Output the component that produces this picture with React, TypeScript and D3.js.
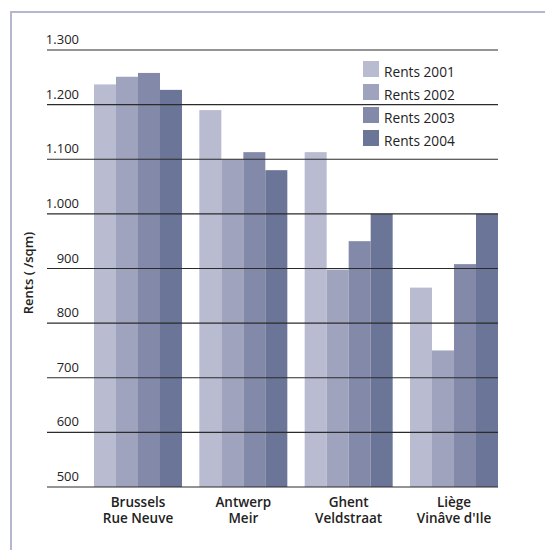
import React from "react";
import * as d3 from "d3";

const categories = [["Brussels", "Rue Neuve"], ["Antwerp", "Meir"], ["Ghent", "Veldstraat"], ["Liège", "Vinâve d'Ile"]];
const seriesNames = ["Rents 2001", "Rents 2002", "Rents 2003", "Rents 2004"];
const rents2001 = [1237, 1190, 1113, 865];
const rents2002 = [1251, 1100, 898, 750];
const rents2003 = [1258, 1113, 950, 908];
const rents2004 = [1227, 1080, 1000, 1000];
const yTicks = [500, 600, 700, 800, 900, 1000, 1100, 1200, 1300];
const colors = ["#b9bbd1", "#9fa3bd", "#8389a8", "#6b7597"];

const W = 545;
const H = 550;
const FONT = "'Open Sans', sans-serif";

export default function App() {
  const series = [rents2001, rents2002, rents2003, rents2004];
  const catKeys = categories.map((c) => c.join(" "));
  const x0 = d3.scaleBand().domain(catKeys).range([94, 498]).paddingInner(0.1646).paddingOuter(0);
  const x1 = d3.scaleBand().domain(seriesNames).range([0, x0.bandwidth()]).padding(0);
  const y = d3.scaleLinear().domain([500, 1300]).range([487, 50]);
  const fmt = (v: number) => d3.format(",")(v).replace(/,/g, ".");

  return (
    <svg width={W} height={H} style={{ position: "absolute", left: 0, top: 0, background: "#fff" }} fontFamily={FONT}>
      <rect x={11} y={12} width={W} height={H} fill="#fff" stroke="#b4b7cf" strokeWidth={2} />
      {catKeys.map((ck, ci) => (
        <g key={ck} transform={`translate(${x0(ck)},0)`}>
          {seriesNames.map((s, si) => (
            <rect
              key={s}
              x={x1(s)}
              y={y(series[si][ci])}
              width={x1.bandwidth()}
              height={y(500) - y(series[si][ci])}
              fill={colors[si]}
            />
          ))}
        </g>
      ))}
      {yTicks.map((t) => (
        <g key={t}>
          <line x1={47} x2={498} y1={y(t)} y2={y(t)} stroke="#2b2b2b" strokeWidth={1.2} />
          <text x={79} y={y(t) - 6} textAnchor="end" fontSize={13} fill="#222">
            {fmt(t)}
          </text>
        </g>
      ))}
      <text
        transform={`translate(33,273) rotate(-90)`}
        textAnchor="middle"
        fontSize={13}
        fontWeight="600"
        fill="#222"
      >
        Rents ( /sqm)
      </text>
      {categories.map((c, ci) => {
        const cx = (x0(catKeys[ci]) as number) + x0.bandwidth() / 2;
        return (
          <g key={ci}>
            <text x={cx} y={507} textAnchor="middle" fontSize={13.5} fontWeight="600" fill="#222">
              {c[0]}
            </text>
            <text x={cx} y={522.5} textAnchor="middle" fontSize={13.5} fontWeight="600" fill="#222">
              {c[1]}
            </text>
          </g>
        );
      })}
      {seriesNames.map((s, si) => (
        <g key={s} transform={`translate(363,${61 + si * 23})`}>
          <rect x={0} y={0} width={16} height={16} fill={colors[si]} />
          <text x={21} y={16} fontSize={13.7} fill="#222">
            {s}
          </text>
        </g>
      ))}
    </svg>
  );
}
